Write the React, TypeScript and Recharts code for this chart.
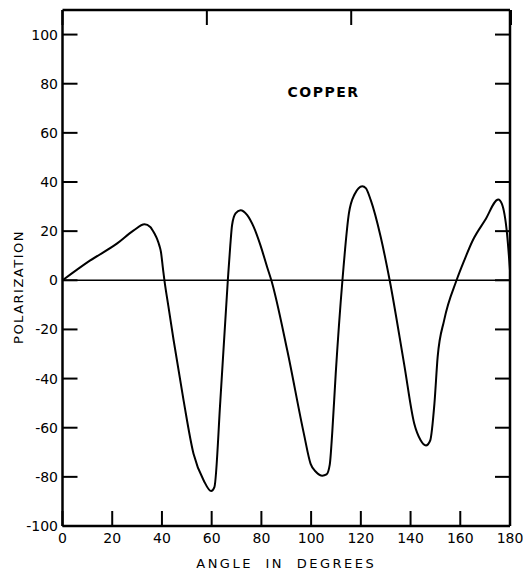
import React from 'react';
import {
  LineChart, Line, XAxis, YAxis, ReferenceLine, ReferenceDot, Label,
} from 'recharts';

// angle in degrees, polarization
const angles = [
  0, 11, 22, 28.5, 33, 35.3, 37, 38, 39, 39.6, 40.4, 41, 42.5, 44.7, 48.7, 52.7,
  56.8, 59.8, 61.1, 63.5, 66.5, 67.5, 68.2, 69.6, 71.6, 74.3, 76.9, 79.6, 82.3, 84, 90.4,
  97.1, 99.8, 102, 104.5, 106.2, 107.5, 108.5, 109.9, 112.6, 115.2, 117.5, 120.6, 122, 124,
  128, 131.6, 137.4, 141.5, 144, 146.2, 147.9, 149.6, 150.9, 153.5, 158.5, 161.6, 165,
  170, 175.3, 176.7, 178.8, 180,
];
const polarization = [
  0, 8, 15, 20.2, 22.8, 21.7, 19, 17, 14, 11.5, 4.8, 0, -10, -24.4, -48.9, -70.6,
  -81.5, -85.8, -84.2, -48.9, 0, 14.3, 22.4, 27.2, 28.5, 26.5, 21.7, 14.3, 5.4, 0, -28.5,
  -62.5, -74.7, -78, -79.5, -79, -75, -62, -38, 0, 27.2, 35, 38.3, 37.5, 32.6,
  17.6, 0, -34, -58.4, -65, -67.2, -65.2, -50.2, -31.2, -16.3, 0, 8.1, 16.2,
  24.5, 32.9, 31.2, 19, 4,
];
const xTicks = [0, 20, 40, 60, 80, 100, 120, 140, 160, 180];
const yTicks = [-100, -80, -60, -40, -20, 0, 20, 40, 60, 80, 100];

const data = angles.map((a, i) => ({ angle: a, pol: polarization[i] }));

const font = '"DejaVu Sans", sans-serif';
const axisLine = { stroke: '#000', strokeWidth: 2.5 };
const TICK = 15;

// tick marks point into the plot, labels stay outside
const LeftTick = ({ x, y, payload }: any) => (
  <g>
    <line x1={x + 4.5} x2={x + 4.5 + TICK} y1={y} y2={y} stroke="#000" strokeWidth={2} />
    <text x={x} y={y} textAnchor="end" dominantBaseline="central" fontSize={14} fontFamily={font} fill="#000">
      {payload.value}
    </text>
  </g>
);

const BottomTick = ({ x, y, payload }: any) => (
  <g>
    <line x1={x} x2={x} y1={y - 6.6} y2={y - 6.6 - TICK} stroke="#000" strokeWidth={2} />
    <text x={x} y={y} dy="0.71em" textAnchor="middle" fontSize={14} fontFamily={font} fill="#000">
      {payload.value}
    </text>
  </g>
);

const TopTick = ({ x, y }: any) => (
  <line x1={x} x2={x} y1={y} y2={y + TICK} stroke="#000" strokeWidth={2} />
);

const RightTick = ({ x, y }: any) => (
  <line x1={x} x2={x - TICK} y1={y} y2={y} stroke="#000" strokeWidth={2} />
);

export default function App() {
  return (
    <div style={{ position: 'absolute', left: 0, top: 0, background: '#fff' }}>
      <LineChart
        width={523}
        height={573}
        data={data}
        margin={{ top: 9, right: 12, left: 0, bottom: 0 }}
      >
        <XAxis
          dataKey="angle"
          type="number"
          domain={[0, 180]}
          ticks={xTicks}
          height={47}
          tickSize={0}
          tickMargin={6.6}
          tick={BottomTick}
          axisLine={axisLine}
          tickLine={false}
          allowDataOverflow
        >
          <Label
            content={({ viewBox }: any) => (
              <text
                x={viewBox.x + viewBox.width / 2}
                y={viewBox.y + 42}
                textAnchor="middle"
                fontSize={13}
                fontFamily={font}
                letterSpacing={2.5}
                wordSpacing={6}
                fill="#000"
              >
                ANGLE IN DEGREES
              </text>
            )}
          />
        </XAxis>
        <XAxis
          xAxisId="top"
          orientation="top"
          type="number"
          domain={[0, 180]}
          ticks={xTicks}
          height={1}
          tickSize={0}
          tickMargin={0}
          tick={TopTick}
          axisLine={axisLine}
          tickLine={false}
          allowDataOverflow
        />
        <YAxis
          type="number"
          domain={[-100, 110]}
          ticks={yTicks}
          width={62.5}
          tickSize={0}
          tickMargin={4.5}
          tick={LeftTick}
          axisLine={axisLine}
          tickLine={false}
          allowDataOverflow
        >
          <Label
            content={({ viewBox }: any) => {
              const cx = viewBox.x + 18;
              const cy = viewBox.y + viewBox.height / 2 + 19;
              return (
                <text
                  x={cx}
                  y={cy}
                  transform={`rotate(-90 ${cx} ${cy})`}
                  textAnchor="middle"
                  dominantBaseline="central"
                  fontSize={13}
                  fontFamily={font}
                  letterSpacing={1.5}
                  fill="#000"
                >
                  POLARIZATION
                </text>
              );
            }}
          />
        </YAxis>
        <YAxis
          yAxisId="right"
          orientation="right"
          type="number"
          domain={[-100, 110]}
          ticks={yTicks}
          width={1}
          tickSize={0}
          tickMargin={0}
          tick={RightTick}
          axisLine={axisLine}
          tickLine={false}
          allowDataOverflow
        />
        <ReferenceLine y={0} stroke="#000" strokeWidth={1.5} />
        <ReferenceDot
          x={105}
          y={76.5}
          r={0}
          fill="none"
          stroke="none"
          label={{
            value: 'COPPER',
            position: 'center',
            fill: '#000',
            fontSize: 14,
            fontWeight: 'bold',
            fontFamily: font,
            letterSpacing: 1.5,
          }}
        />
        <Line
          type="monotone"
          dataKey="pol"
          stroke="#000"
          strokeWidth={2}
          dot={false}
          isAnimationActive={false}
        />
      </LineChart>
    </div>
  );
}
